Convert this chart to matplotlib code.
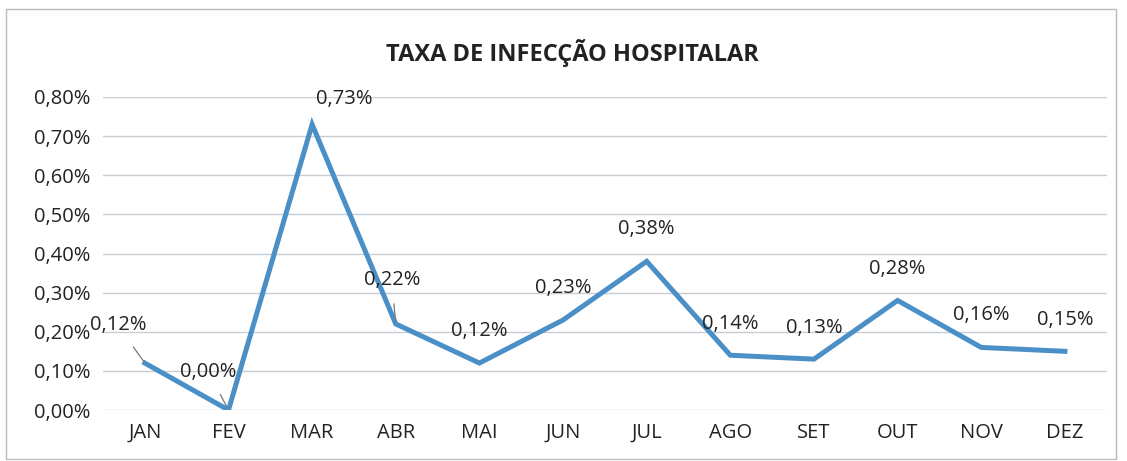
import matplotlib.pyplot as plt
from matplotlib.patches import Rectangle

# Data
months = ['JAN', 'FEV', 'MAR', 'ABR', 'MAI', 'JUN', 'JUL', 'AGO', 'SET', 'OUT', 'NOV', 'DEZ']
taxa = [0.12, 0.00, 0.73, 0.22, 0.12, 0.23, 0.38, 0.14, 0.13, 0.28, 0.16, 0.15]
yticks = [0.0, 0.1, 0.2, 0.3, 0.4, 0.5, 0.6, 0.7, 0.8]

# label offsets in pixels (dx, dy) and whether a leader line is drawn
offsets = [(-27, 38), (-20, 38), (32, 25), (-4, 44), (0, 32), (0, 32),
           (0, 32), (0, 31), (0, 31), (0, 31), (0, 32), (0, 31)]
leaders = [True, True, False, True] + [False] * 8

plt.rcParams['font.family'] = ['Open Sans', 'DejaVu Sans']

fig = plt.figure(figsize=(11.27, 4.61), dpi=100)
ax = fig.add_axes([0.0914, 0.1106, 0.8906, 0.679])

x = range(len(months))
ax.plot(x, taxa, color='#4b8fc7', lw=3.6, solid_joinstyle='miter', zorder=3)

for i, v in enumerate(taxa):
    dx, dy = offsets[i]
    lbl = ('%.2f%%' % v).replace('.', ',')
    if leaders[i]:
        ax.annotate(lbl, (i, v), xytext=(dx, dy), textcoords='offset pixels',
                    ha='center', va='center', fontsize=14.5, color='#222222',
                    arrowprops=dict(arrowstyle='-', color='#777777', lw=0.9,
                                    shrinkA=8, shrinkB=2), zorder=4)
    else:
        ax.annotate(lbl, (i, v), xytext=(dx, dy), textcoords='offset pixels',
                    ha='center', va='center', fontsize=14.5, color='#222222', zorder=4)

ax.set_xlim(-0.5, 11.5)
ax.set_ylim(0, 0.8)
ax.set_xticks(list(x))
ax.set_xticklabels(months, fontsize=14.5, color='#222222')
ax.set_yticks(yticks)
ax.set_yticklabels([('%.2f%%' % t).replace('.', ',') for t in yticks], fontsize=14.5, color='#222222')
ax.tick_params(length=0, pad=9)
ax.tick_params(axis='x', pad=9)
ax.grid(axis='y', color='#c8ccd4', lw=1)
ax.set_axisbelow(True)
for s in ax.spines.values():
    s.set_visible(False)

fig.text(0.508, 0.885, 'TAXA DE INFECÇÃO HOSPITALAR', ha='center', va='center',
         fontsize=17, fontweight='bold', color='#222222')

# outer chart border
fig.patches.append(Rectangle((0.005, 0.005), 0.985, 0.975, transform=fig.transFigure,
                             fill=False, ec='#bbbbbb', lw=1))

fig.savefig('out.png', dpi=100)
